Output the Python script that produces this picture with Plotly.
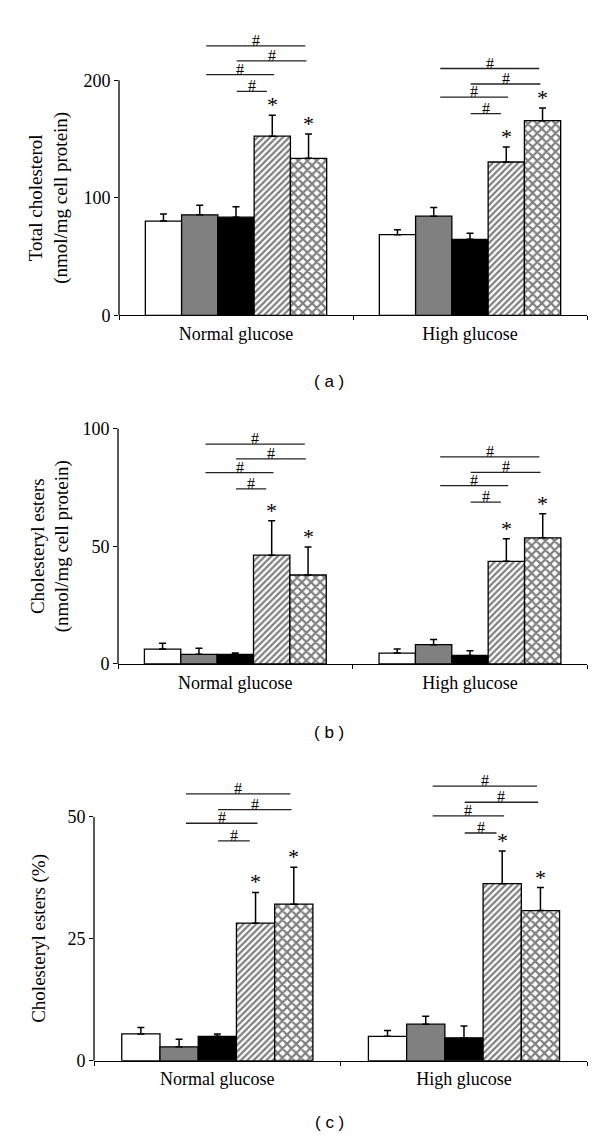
import plotly.graph_objects as go

W, H = 600, 1148

groups = ["Normal glucose", "High glucose"]
treatments = ["Bar 1", "Bar 2", "Bar 3", "Bar 4", "Bar 5"]

# (a) Total cholesterol (nmol/mg cell protein): rows = treatments, cols = groups
a_means = [[80.2, 68.6], [85.5, 84.4], [83.5, 64.7], [152.5, 130.5], [133.6, 165.7]]
a_errs = [[6.0, 4.3], [8.2, 7.3], [9.0, 5.1], [17.7, 12.7], [20.8, 10.7]]
a_ticks = [0, 100, 200]
a_brackets = [[229.3, 216.6, 204.8, 190.7], [210.1, 196.9, 185.7, 171.6]]

# (b) Cholesteryl esters (nmol/mg cell protein)
b_means = [[6.3, 4.6], [4.1, 8.2], [4.1, 3.6], [46.2, 43.6], [37.8, 53.6]]
b_errs = [[2.5, 1.7], [2.6, 2.2], [0.5, 2.0], [14.6, 9.6], [11.9, 10.2]]
b_ticks = [0, 50, 100]
b_brackets = [[93.4, 87.1, 81.3, 74.4], [88.0, 81.4, 75.8, 68.8]]

# (c) Cholesteryl esters (%)
c_means = [[5.5, 5.0], [2.85, 7.5], [5.0, 4.7], [28.2, 36.3], [32.1, 30.8]]
c_errs = [[1.3, 1.2], [1.55, 1.6], [0.5, 2.4], [6.3, 6.7], [7.6, 4.7]]
c_ticks = [0, 25, 50]
c_brackets = [[54.7, 51.5, 48.7, 45.1], [56.3, 53.0, 50.2, 46.7]]

star_bars = [3, 4]
bracket_pairs = [(1, 4), (2, 4), (1, 3), (2, 3)]

SERIF = "Liberation Serif"
SANS = "Liberation Sans"

fills = ["white", "#808080", "black", "white", "white"]
pats = ["", "", "", "/", "x"]
pat_size = [6, 6, 6, 4.5, 6.5]
pat_solid = [0.3, 0.3, 0.3, 0.5, 0.55]

bar_w = 0.155
start_off = [0.18, 0.02, 0.18, 0.02]
end_off = [-0.09, -0.06, 0.05, -0.15]

panels = [
    dict(means=a_means, errs=a_errs, ticks=a_ticks, br=a_brackets, ymax=245,
         y0=310, ppu=237 / 200, xd=[111, 579],
         title="Total cholesterol<br>(nmol/mg cell protein)", tx=41, label="( a )", ly=377),
    dict(means=b_means, errs=b_errs, ticks=b_ticks, br=b_brackets, ymax=105,
         y0=661.7, ppu=237.4 / 100, xd=[110, 579.3],
         title="Cholesteryl esters<br>(nmol/mg cell protein)", tx=42, label="( b )", ly=731),
    dict(means=c_means, errs=c_errs, ticks=c_ticks, br=c_brackets, ymax=60,
         y0=1062, ppu=246 / 50, xd=[86, 579.3],
         title="Cholesteryl esters (%)", tx=31, label="( c )", ly=1124),
]

fig = go.Figure()
shapes = []
annotations = []
layout = {}

for p_i, P in enumerate(panels):
    n = "" if p_i == 0 else str(p_i + 1)
    xa, ya = "x" + n, "y" + n
    for t in range(5):
        fig.add_trace(go.Bar(
            x=[0, 1], y=P["means"][t], name=treatments[t], showlegend=False,
            xaxis=xa, yaxis=ya,
            marker=dict(color=fills[t], line=dict(color="black", width=1.3),
                        pattern=dict(shape=pats[t], fgcolor="black", bgcolor="white",
                                     size=pat_size[t], solidity=pat_solid[t])),
            error_y=dict(type="data", symmetric=False, array=P["errs"][t],
                         arrayminus=[0, 0], color="black", thickness=1.5, width=3.5),
        ))
    ydom = [1 - P["y0"] / H, 1 - (P["y0"] - P["ymax"] * P["ppu"]) / H]
    layout["xaxis" + n] = dict(
        domain=[P["xd"][0] / W, P["xd"][1] / W], range=[-0.5, 1.5], anchor=ya,
        showline=True, linecolor="black", linewidth=1.3, showgrid=False, zeroline=False,
        tickvals=[0, 1], ticktext=groups, ticks="", ticklabelstandoff=2,
        tickfont=dict(family=SERIF, size=18, color="black"),
        minor=dict(tickvals=[-0.5, 0.5, 1.5], ticks="outside", ticklen=4,
                   tickwidth=1.3, tickcolor="black"),
        fixedrange=True)
    layout["yaxis" + n] = dict(
        domain=ydom, range=[0, P["ymax"]], anchor=xa,
        showline=False, showgrid=False, zeroline=False,
        tickvals=P["ticks"], ticks="outside", ticklen=4, tickwidth=1.3, tickcolor="black",
        tickfont=dict(family=SERIF, size=18, color="black"), fixedrange=True)
    shapes.append(dict(type="line", xref=xa + " domain", yref=ya, x0=0, x1=0,
                       y0=0, y1=P["ticks"][-1], line=dict(color="black", width=1.3)))
    # significance brackets
    for g in range(2):
        for k, (i0, i1) in enumerate(bracket_pairs):
            yv = P["br"][g][k]
            xs = g + (i0 - 2 + start_off[k]) * bar_w
            xe = g + (i1 - 2 + end_off[k]) * bar_w
            shapes.append(dict(type="line", xref=xa, yref=ya, x0=xs, x1=xe, y0=yv, y1=yv,
                               line=dict(color="#222", width=1.3)))
            annotations.append(dict(x=(xs + xe) / 2, y=yv, xref=xa, yref=ya, text="#",
                                    showarrow=False, yanchor="bottom", yshift=-5,
                                    font=dict(family=SERIF, size=16, color="black")))
        for s in star_bars:
            top = P["means"][s][g] + P["errs"][s][g]
            annotations.append(dict(x=g + (s - 2) * bar_w, y=top, xref=xa, yref=ya,
                                    text="*", showarrow=False, yanchor="bottom", yshift=-4,
                                    font=dict(family=SERIF, size=22, color="black")))
    # y-axis title
    annotations.append(dict(x=P["tx"] / W, y=(ydom[0] + 1 - (P["y0"] - P["ticks"][-1] * P["ppu"]) / H) / 2,
                            xref="paper", yref="paper", text=P["title"], textangle=-90,
                            showarrow=False, xanchor="center", yanchor="middle",
                            font=dict(family=SERIF, size=19, color="black")))
    # panel label
    annotations.append(dict(x=321 / W, y=1 - P["ly"] / H, xref="paper", yref="paper",
                            text=P["label"], showarrow=False, xanchor="center", yanchor="middle",
                            font=dict(family=SANS, size=17, color="black")))

fig.update_layout(
    width=W, height=H, margin=dict(l=0, r=0, t=0, b=0),
    paper_bgcolor="white", plot_bgcolor="white",
    barmode="group", bargap=0.225, bargroupgap=0,
    shapes=shapes, annotations=annotations, showlegend=False,
    **layout)

fig.write_html("out.html")
